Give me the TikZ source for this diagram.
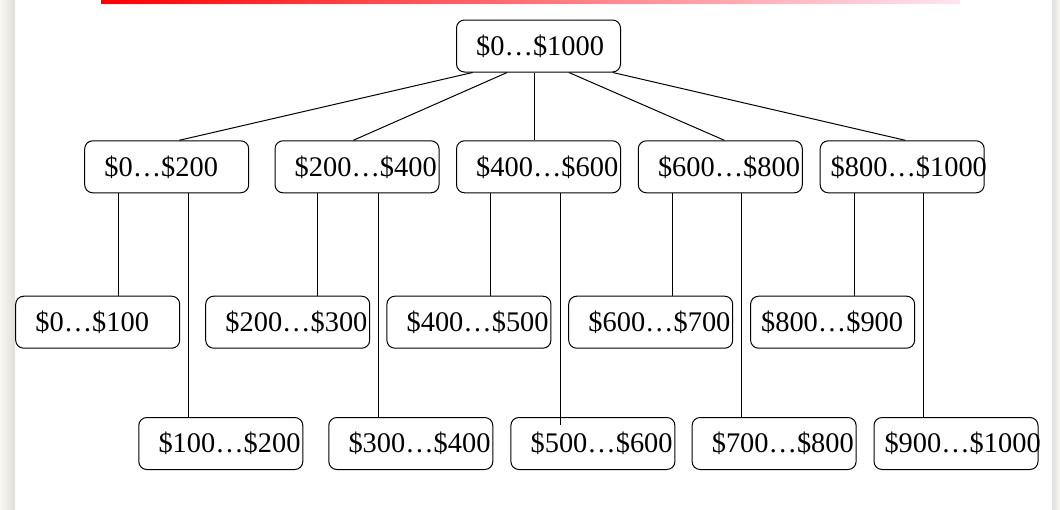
\documentclass[tikz,border=0pt]{standalone}
\usepackage{fontspec}
\setmainfont{Liberation Serif}
\usetikzlibrary{calc}
\definecolor{edgelight}{RGB}{249,248,243}
\definecolor{edgedark}{RGB}{224,223,219}
\definecolor{barpink}{RGB}{255,230,242}
\tikzset{
  rangebox/.style={draw, rounded corners=4pt, line width=0.5pt, anchor=north west,
    minimum height=26pt, inner ysep=0pt, inner xsep=9.85pt, text width=62.3pt,
    align=left, font=\fontsize{14.2}{17}\selectfont},
  tight/.style={inner xsep=5.25pt, text width=71.5pt},
  link/.style={line width=0.5pt}
}
\begin{document}
\begin{tikzpicture}[x=0.5pt,y=-0.5pt]
      \useasboundingbox (0,0) rectangle (1060,509);
      % page edges and bar
      \shade[left color=edgelight, right color=edgedark] (0,0) rectangle (15,509);
      \shade[left color=edgedark, right color=edgelight] (1052,0) rectangle (1060,509);
      \shade[left color=red, right color=barpink] (101,0) rectangle (960,3);
      % ranges
      \node[rangebox] (all) at (456,19.5) {\$0…\$1000};
      \node[rangebox] (b0) at (84.2,140.3) {\$0…\$200};
      \node[rangebox] (b2) at (274.5,140.3) {\$200…\$400};
      \node[rangebox] (b4) at (456,140.3) {\$400…\$600};
      \node[rangebox] (b6) at (637.8,140.3) {\$600…\$800};
      \node[rangebox,tight] (b8) at (819.7,140.3) {\$800…\$1000};
      \node[rangebox] (l0) at (15.2,295.7) {\$0…\$100};
      \node[rangebox] (l2) at (205.2,295.7) {\$200…\$300};
      \node[rangebox] (l4) at (386.4,295.7) {\$400…\$500};
      \node[rangebox] (l6) at (568.2,295.7) {\$600…\$700};
      \node[rangebox,tight] (l8) at (750.1,295.7) {\$800…\$900};
      \node[rangebox] (l1) at (138.3,417) {\$100…\$200};
      \node[rangebox] (l3) at (328.3,417) {\$300…\$400};
      \node[rangebox] (l5) at (510.4,417) {\$500…\$600};
      \node[rangebox] (l7) at (691.6,417) {\$700…\$800};
      \node[rangebox,tight] (l9) at (873.5,417) {\$900…\$1000};
      % links
      \foreach \p/\c/\q in {8.3/b0/47.5, 25.55/b2/39.4, 39/b4/39, 56.45/b6/43.3, 78.4/b8/42.8}
        \draw[link] ([xshift=\p pt]all.south west) -- ([xshift=\q pt]\c.north west);
      \foreach \p/\c/\d/\e in {b0/l0/17.05/0, b0/l1/51.9/0, b2/l2/21.65/0, b2/l3/51.75/0,
          b4/l4/17.45/0, b4/l5/52.05/4, b6/l6/17.25/0, b6/l7/51.9/0, b8/l8/17.4/0, b8/l9/51.75/0}
        \draw[link] ([xshift=\d pt]\p.south west) -- ([xshift=\d pt, yshift=-\e pt]\p.south west |- \c.north);
\end{tikzpicture}
\end{document}
